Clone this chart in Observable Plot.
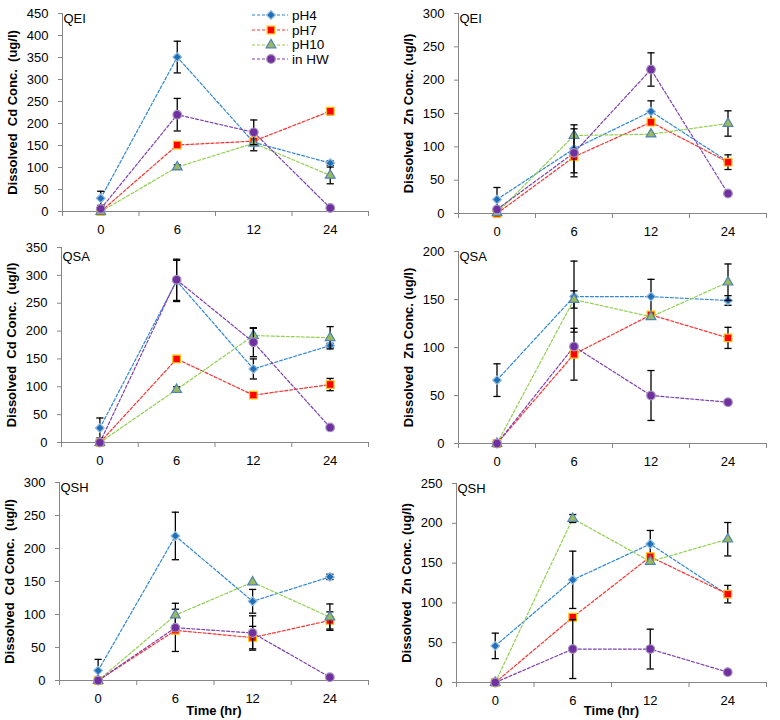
<!DOCTYPE html>
<html><head><meta charset="utf-8">
<script src="https://cdn.jsdelivr.net/npm/d3@7"></script>
<script src="https://cdn.jsdelivr.net/npm/@observablehq/plot@0.6"></script>
<style>
body{margin:0;background:#fff;}
#chart{position:relative;width:780px;height:720px;font-family:"Liberation Sans",Arial,sans-serif;}
#chart svg text{white-space:pre;}
.legend{position:absolute;left:250px;top:8px;font-size:13.5px;color:#000;}
.legend .row{display:flex;align-items:center;height:14.7px;}
.legend svg{display:block;margin-right:2px;}
</style></head><body><div id="chart"></div>
<script>
// ---- data ----
const times = ["0", "6", "12", "24"];
const seriesNames = ["pH4", "pH7", "pH10", "in HW"];
const sites = ["QEI", "QSA", "QSH"];
const cdLabel = "Dissolved  Cd Conc.  (ug/l)";
const znLabel = "Dissolved  Zn Conc. (ug/l)";
const xLabel = "Time (hr)";
const cdYMax = [450, 350, 300];
const znYMax = [300, 200, 250];
const yStep = 50;

// rows: pH4, pH7, pH10, in HW ; columns: 0, 6, 12, 24 h
const cdQEI    = [[30, 351, 157, 110], [0, 151, 160, 228], [0, 101, 155, 82], [6, 220, 180, 8]];
const cdQEIErr = [[16, 36, 19, 5], [0, 0, 0, 8], [0, 5, 0, 19], [0, 37, 28, 0]];
const znQEI    = [[21, 97, 153, 78], [0, 85, 137, 77], [1, 117, 119, 135], [6, 91, 216, 30]];
const znQEIErr = [[18, 36, 16, 0], [0, 0, 0, 11], [0, 0, 0, 19], [0, 36, 25, 0]];
const cdQSA    = [[26, 290, 132, 174], [0, 150, 85, 104], [0, 95, 192, 188], [0, 292, 180, 27]];
const cdQSAErr = [[18, 37, 18, 4], [0, 0, 0, 11], [0, 5, 13, 20], [0, 37, 26, 0]];
const znQSA    = [[66, 153, 153, 149], [0, 93, 134, 110], [0, 150, 132, 168], [0, 101, 50, 43]];
const znQSAErr = [[17, 37, 18, 5], [0, 27, 0, 11], [0, 9, 0, 19], [0, 0, 26, 0]];
const cdQSH    = [[15, 219, 120, 157], [0, 76, 65, 91], [0, 99, 149, 96], [0, 80, 72, 5]];
const cdQSHErr = [[17, 36, 18, 4], [0, 32, 17, 13], [0, 18, 0, 20], [0, 0, 26, 0]];
const znQSH    = [[46, 129, 174, 110], [0, 82, 158, 111], [0, 206, 152, 180], [0, 42, 42, 13]];
const znQSHErr = [[16, 36, 17, 0], [0, 0, 0, 11], [0, 5, 0, 21], [0, 37, 25, 0]];

// ---- styles ----
const lineColors = ["#2f86d6", "#ff3030", "#92d050", "#7e3fb0"];
const markFills = ["#1f6fb8", "#ff0000", "#9bbb59", "#7030a0"];
const markStrokes = ["#8fb8de", "#ffc000", "#4f81bd", "#a592bd"];
const markSymbols = [d3.symbolDiamond2, d3.symbolSquare, d3.symbolTriangle, d3.symbolCircle];
const markR = [3.9, 4.3, 3.6, 4.3];
const axisGray = "#868686";
const xDomain = [-0.5, times.length - 0.5];
const capSymbol = {draw(ctx, size) { const w = Math.sqrt(size / Math.PI); ctx.moveTo(-w, 0); ctx.lineTo(w, 0); }};

const panels = [
  {left: 0,   top: 0,   h: 234, mt: 13, mb: 23, ml: 62, mr: 22, name: sites[0], ylabel: cdLabel, ymax: cdYMax[0], vals: cdQEI, errs: cdQEIErr, nameDy: 0},
  {left: 390, top: 0,   h: 234, mt: 13, mb: 21, ml: 68, mr: 14, name: sites[0], ylabel: znLabel, ymax: znYMax[0], vals: znQEI, errs: znQEIErr, nameDy: 0},
  {left: 0,   top: 234, h: 230, mt: 13, mb: 22, ml: 61, mr: 22, name: sites[1], ylabel: cdLabel, ymax: cdYMax[1], vals: cdQSA, errs: cdQSAErr, nameDy: 4},
  {left: 390, top: 234, h: 230, mt: 17, mb: 21, ml: 68, mr: 14, name: sites[1], ylabel: znLabel, ymax: znYMax[1], vals: znQSA, errs: znQSAErr, nameDy: 0},
  {left: 0,   top: 464, h: 256, mt: 18, mb: 40, ml: 59, mr: 22, name: sites[2], ylabel: cdLabel, ymax: cdYMax[2], vals: cdQSH, errs: cdQSHErr, nameDy: 0, xlab: true, xlabDy: 30},
  {left: 390, top: 464, h: 256, mt: 19, mb: 38, ml: 66, mr: 14, name: sites[2], ylabel: znLabel, ymax: znYMax[2], vals: znQSH, errs: znQSHErr, nameDy: 0, xlab: true, xlabDy: 28}
];

const chart = document.getElementById("chart");

function buildPanel(p) {
  const rows = [];
  seriesNames.forEach((s, si) => times.forEach((t, ti) =>
    rows.push({series: s, si, x: ti, y: p.vals[si][ti], err: p.errs[si][ti]})));
  const errRows = rows.filter(d => d.err > 0);
  const marks = [
    Plot.ruleY([0], {stroke: axisGray}),
    Plot.ruleX([xDomain[0]], {stroke: axisGray}),
    Plot.axisY({ticks: d3.range(0, p.ymax + 1, yStep), tickSize: 4, tickPadding: 10, stroke: axisGray, fill: "#000", fontSize: 13, label: null}),
    Plot.axisX({ticks: d3.range(xDomain[0], xDomain[1] + 0.01, 1), tickSize: 5, tickFormat: () => "", stroke: axisGray, label: null}),
    Plot.axisX({ticks: d3.range(times.length), tickSize: 0, tickPadding: 13, tickFormat: i => times[i], fill: "#000", fontSize: 13, label: null}),
    Plot.text([p.ylabel], {text: d => d, frameAnchor: "left", textAnchor: "middle", lineAnchor: "middle", rotate: -90, dx: -50, fontWeight: "bold", fontSize: 13, fill: "#000"}),
    Plot.text([p.name], {text: d => d, frameAnchor: "top-left", dx: 1, dy: p.nameDy, fontSize: 13, fill: "#000"})
  ];
  if (p.xlab) marks.push(Plot.text([xLabel], {text: d => d, frameAnchor: "bottom", textAnchor: "middle", lineAnchor: "middle", dy: p.xlabDy, fontWeight: "bold", fontSize: 13, fill: "#000"}));
  seriesNames.forEach((s, si) => {
    marks.push(Plot.line(rows.filter(d => d.si === si), {x: "x", y: "y", stroke: lineColors[si], strokeWidth: 1.2, strokeDasharray: "3 2"}));
  });
  seriesNames.forEach((s, si) => {
    const er = errRows.filter(d => d.si === si);
    marks.push(Plot.ruleX(er, {x: "x", y1: d => d.y - d.err, y2: d => d.y + d.err, stroke: "#000", strokeWidth: 1.3}));
    marks.push(Plot.dot(er, {x: "x", y: d => d.y + d.err, symbol: capSymbol, r: 3.6, stroke: "#000", fill: "none", strokeWidth: 1.3}));
    marks.push(Plot.dot(er, {x: "x", y: d => d.y - d.err, symbol: capSymbol, r: 3.6, stroke: "#000", fill: "none", strokeWidth: 1.3}));
    marks.push(Plot.dot(rows.filter(d => d.si === si), {x: "x", y: "y", symbol: markSymbols[si], r: markR[si], fill: markFills[si], stroke: markStrokes[si], strokeWidth: 1.2}));
  });
  const svg = Plot.plot({
    width: 390, height: p.h,
    marginTop: p.mt, marginBottom: p.mb, marginLeft: p.ml, marginRight: p.mr,
    x: {domain: xDomain},
    y: {domain: [0, p.ymax]},
    style: {background: "transparent", fontFamily: "'Liberation Sans', Arial, sans-serif", fontSize: "13px", color: "#000", overflow: "visible"},
    marks
  });
  svg.style.position = "absolute";
  svg.style.left = p.left + "px";
  svg.style.top = p.top + "px";
  chart.appendChild(svg);
}
panels.forEach(buildPanel);

// legend (inside the first panel)
const legend = document.createElement("div");
legend.className = "legend";
seriesNames.forEach((s, i) => {
  const row = document.createElement("div");
  row.className = "row";
  const path = d3.symbol(markSymbols[i], Math.PI * markR[i] * markR[i])();
  row.innerHTML = `<svg width="40" height="14"><line x1="2" y1="7" x2="38" y2="7" stroke="${lineColors[i]}" stroke-width="1.2" stroke-dasharray="3 2"/><path transform="translate(21,7)" d="${path}" fill="${markFills[i]}" stroke="${markStrokes[i]}" stroke-width="1.2"/></svg><span>${s}</span>`;
  legend.appendChild(row);
});
chart.appendChild(legend);
</script></body></html>
